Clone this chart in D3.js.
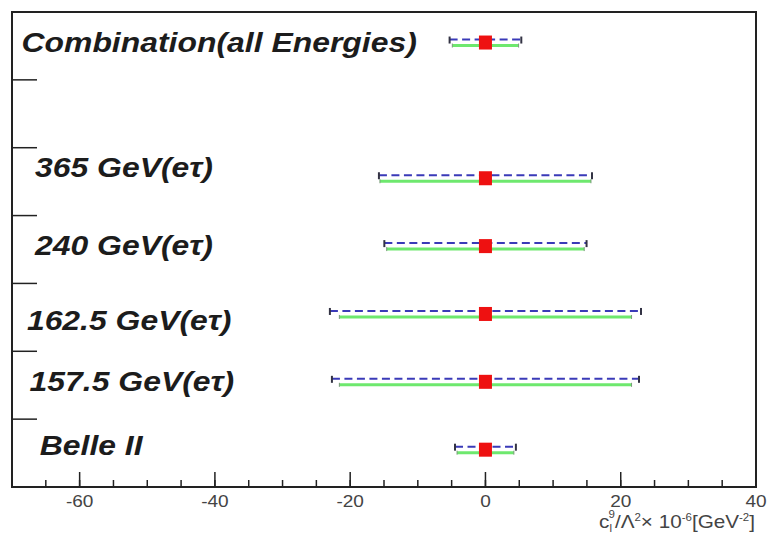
<!DOCTYPE html>
<html>
<head>
  <meta charset="UTF-8">
  <title>Limits by energy</title>
  <script src="https://d3js.org/d3.v7.min.js"></script>
  <style>
    body { margin: 0; background: #fff; }
    svg text { font-family: "Liberation Sans", Arial, sans-serif; }
  </style>
</head>
<body>
  <div id="chart"></div>
  <script>
    // rows from bottom to top (y slot index), empty slot 5 between 365 and combination
    const labels = ["Belle II", "157.5 GeV(e\u03c4)", "162.5 GeV(e\u03c4)", "240 GeV(e\u03c4)", "365 GeV(e\u03c4)", "Combination(all Energies)"];
    const slots = [0, 1, 2, 3, 4, 6];
    const centers = [0, 0, 0, 0, 0, 0];
    const blueErr = [4.5, 22.7, 23.0, 14.95, 15.75, 5.3];
    const greenErr = [4.2, 21.6, 21.6, 14.6, 15.6, 4.9];
    // label anchors in data units (x, y of baseline)
    const labelX = [-65.9, -67.4, -67.8, -66.6, -66.6, -68.6];
    const labelY = [0.47, 1.41, 2.31, 3.42, 4.57, 6.41];
    const xMajor = [-60, -40, -20, 0, 20, 40];
    const xMinor = d3.range(-70, 41, 5);
    const yTicks = [1, 2, 3, 4, 5, 6];

    const W = 767, H = 536;
    const fr = { left: 12, right: 756, top: 12, bottom: 487 };

    const svg = d3.select("#chart").append("svg")
      .attr("width", W).attr("height", H);

    const x = d3.scaleLinear().domain([-70, 40]).range([fr.left, fr.right]);
    const y = d3.scaleLinear().domain([0, 7]).range([fr.bottom, fr.top]);

    // error bars
    const rows = labels.map((l, i) => ({
      label: l, slot: slots[i] + 0.55, c: centers[i], b: blueErr[i], g: greenErr[i]
    }));

    const g = svg.append("g");
    g.selectAll(".green").data(rows).enter().append("line")
      .attr("x1", d => x(d.c - d.g)).attr("x2", d => x(d.c + d.g))
      .attr("y1", d => y(d.slot) + 3).attr("y2", d => y(d.slot) + 3)
      .attr("stroke", "#6ee86e").attr("stroke-width", 3);

    g.selectAll(".blue").data(rows).enter().append("line")
      .attr("x1", d => x(d.c - d.b)).attr("x2", d => x(d.c + d.b))
      .attr("y1", d => y(d.slot) - 3).attr("y2", d => y(d.slot) - 3)
      .attr("stroke", "#3a3ab8").attr("stroke-width", 2)
      .attr("stroke-dasharray", "8,4.5");

    // end caps
    rows.forEach(d => {
      [d.c - d.b, d.c + d.b].forEach(v => {
        g.append("line")
          .attr("x1", x(v)).attr("x2", x(v))
          .attr("y1", y(d.slot) - 6).attr("y2", y(d.slot) + 1)
          .attr("stroke", "#334").attr("stroke-width", 2);
      });
      [d.c - d.g, d.c + d.g].forEach(v => {
        g.append("line")
          .attr("x1", x(v)).attr("x2", x(v))
          .attr("y1", y(d.slot) + 1).attr("y2", y(d.slot) + 5)
          .attr("stroke", "#7a9a7a").attr("stroke-width", 1);
      });
    });

    g.selectAll(".mk").data(rows).enter().append("rect")
      .attr("x", d => x(d.c) - 6.5).attr("y", d => y(d.slot) - 7)
      .attr("width", 13).attr("height", 14)
      .attr("fill", "#ee1111");

    // labels (the picture is stretched a little horizontally)
    svg.selectAll(".lab").data(rows).enter().append("text")
      .attr("transform", (d, i) => "translate(" + x(labelX[i]) + "," + y(labelY[i]) + ") scale(1.14,1)")
      .attr("font-size", 28)
      .attr("font-weight", "bold")
      .attr("font-style", "italic")
      .attr("fill", "#1c1c1c")
      .text(d => d.label);

    // frame
    svg.append("rect")
      .attr("x", fr.left).attr("y", fr.top)
      .attr("width", fr.right - fr.left).attr("height", fr.bottom - fr.top)
      .attr("fill", "none").attr("stroke", "#222").attr("stroke-width", 2);

    // x ticks
    svg.selectAll(".xmin").data(xMinor).enter().append("line")
      .attr("x1", d => x(d)).attr("x2", d => x(d))
      .attr("y1", fr.bottom).attr("y2", fr.bottom - 7)
      .attr("stroke", "#222").attr("stroke-width", 1.5);
    svg.selectAll(".xmaj").data(xMajor).enter().append("line")
      .attr("x1", d => x(d)).attr("x2", d => x(d))
      .attr("y1", fr.bottom).attr("y2", fr.bottom - 15)
      .attr("stroke", "#222").attr("stroke-width", 1.5);
    svg.selectAll(".xlab").data(xMajor).enter().append("text")
      .attr("transform", d => "translate(" + x(d) + ",507) scale(1.12,1)")
      .attr("text-anchor", "middle")
      .attr("font-size", 17).attr("fill", "#444")
      .text(d => d);

    // y ticks
    svg.selectAll(".ytk").data(yTicks).enter().append("line")
      .attr("x1", fr.left).attr("x2", fr.left + 25)
      .attr("y1", d => y(d)).attr("y2", d => y(d))
      .attr("stroke", "#222").attr("stroke-width", 1.5);

    // x title
    const t = svg.append("text")
      .attr("transform", "translate(755,528) scale(1.15,1)")
      .attr("text-anchor", "end")
      .attr("font-size", 18).attr("fill", "#444");
    t.append("tspan").text("c");
    t.append("tspan").attr("font-size", 10).attr("dy", 4).text("l");
    t.append("tspan").attr("font-size", 10).attr("dx", -3).attr("dy", -14).text("9");
    t.append("tspan").attr("dy", 10).text("/\u039b");
    t.append("tspan").attr("font-size", 10).attr("dy", -7).text("2");
    t.append("tspan").attr("dy", 7).text("\u00d7 10");
    t.append("tspan").attr("font-size", 10).attr("dy", -7).text("-6");
    t.append("tspan").attr("dy", 7).text("[GeV");
    t.append("tspan").attr("font-size", 10).attr("dy", -7).text("-2");
    t.append("tspan").attr("dy", 7).text("]");
  </script>
</body>
</html>
